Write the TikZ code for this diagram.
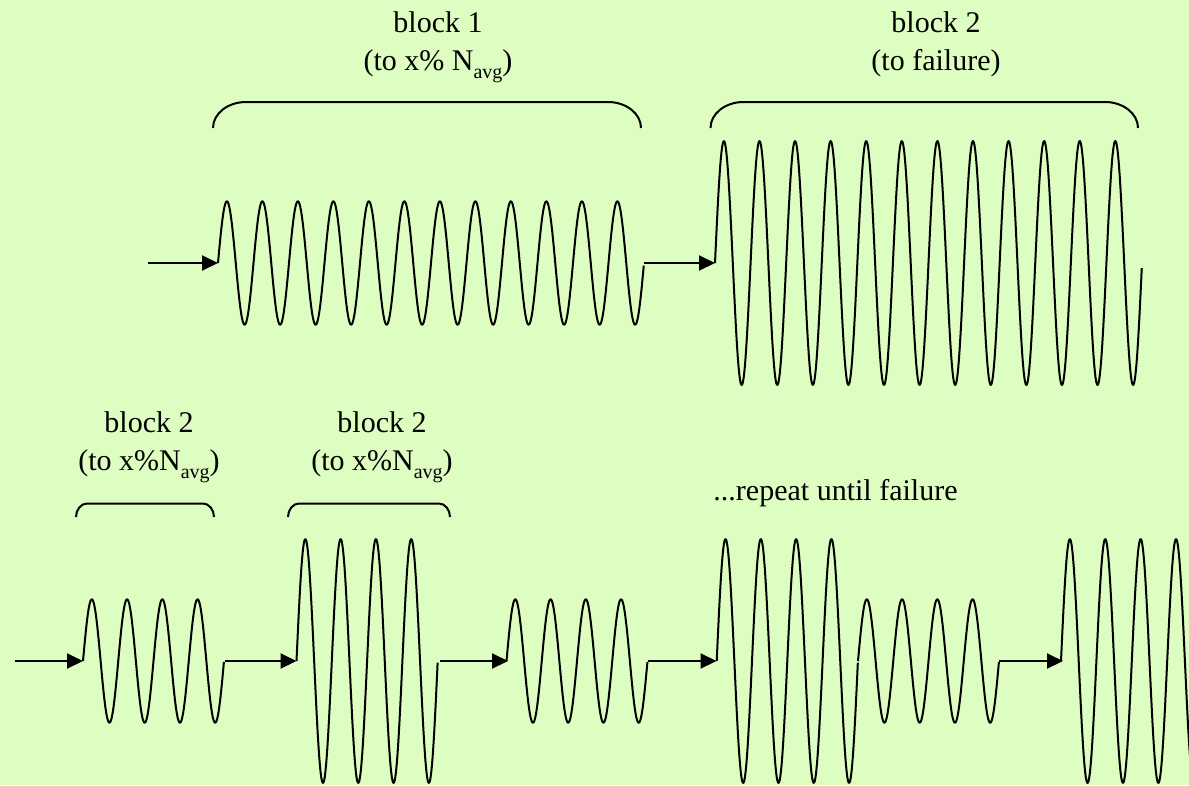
\documentclass[tikz,border=0pt]{standalone}
\usepackage{fontspec}
\setmainfont{Liberation Serif}
\usetikzlibrary{arrows.meta}
\definecolor{bg}{RGB}{221,253,193}
\newcommand{\sub}[1]{\raisebox{-8pt}{\fontsize{20}{20}\selectfont #1}}
\begin{document}
\begin{tikzpicture}[x=1pt,y=-1pt,
  wave/.style={line width=2pt,line join=round},
  conn/.style={line width=2pt,-{Triangle[length=16pt,width=15pt]}},
  bracket/.style={line width=2pt},
  lbl/.style={inner sep=0pt,anchor=base,font=\fontsize{30}{36}\selectfont}]
\fill[bg] (0,0) rectangle (1189,785);
\useasboundingbox (0,0) rectangle (1189,785);
\clip (0,0) rectangle (1189,785);

% ---- top row ----
\coordinate (in1) at (148,263);
\coordinate (w1s) at (218,263);
\coordinate (w1e) at (644,263);
\coordinate (w2s) at (715,263);
\coordinate (w2e) at (1142,263);
\draw[wave] plot[domain=0:12,samples=601,variable=\t] ({218+35.5*\t},{263-61.7*sin(360*\t)});
\draw[wave] plot[domain=0:12,samples=601,variable=\t] ({715+35.583*\t},{263-122*sin(360*\t)});
\draw[conn] (in1) -- (w1s);
\draw[conn] (w1e) -- (w2s);

\draw[bracket] (213,128) .. controls (213,113.6) and (227.8,102) .. (246,102) -- (608,102)
  .. controls (626.2,102) and (641,113.6) .. (641,128);
\draw[bracket] (710.5,128) .. controls (710.5,113.6) and (725.3,102) .. (743.5,102) -- (1105,102)
  .. controls (1123.2,102) and (1138,113.6) .. (1138,128);

\node[lbl] (t1a) at (438,32) {block 1};
\node[lbl] (t1b) at (438,70) {(to x\% N\sub{avg})};
\node[lbl] (t2a) at (936,32) {block 2};
\node[lbl] (t2b) at (936,70) {(to failure)};

% ---- bottom row ----
\coordinate (in2) at (15,661);
\coordinate (b1s) at (83,661);
\coordinate (b1e) at (225,661);
\coordinate (b2s) at (296.5,661);
\coordinate (b2e) at (440,661);
\coordinate (b3s) at (508,661);
\coordinate (b3e) at (648,661);
\coordinate (b4s) at (716.5,661);
\coordinate (b5e) at (999,661);
\coordinate (b6s) at (1063,661);
\draw[wave] plot[domain=0:4,samples=201,variable=\t] ({83+35.25*\t},{661-61.7*sin(360*\t)});
\draw[wave] plot[domain=0:4,samples=201,variable=\t] ({296.5+35.3*\t},{661-122*sin(360*\t)});
\draw[wave] plot[domain=0:4,samples=201,variable=\t] ({506.5+35.25*\t},{661-61.7*sin(360*\t)});
\draw[wave] plot[domain=0:4,samples=201,variable=\t] ({716.7+35.3*\t},{661-122*sin(360*\t)});
\draw[wave] plot[domain=0:4,samples=201,variable=\t] ({858+35.25*\t},{661-61.7*sin(360*\t)});
\draw[wave] plot[domain=0:4,samples=201,variable=\t] ({1061+35.4*\t},{661-122*sin(360*\t)});
\draw[conn] (in2) -- (b1s);
\draw[conn] (b1e) -- (b2s);
\draw[conn] (b2e) -- (b3s);
\draw[conn] (b3e) -- (b4s);
\draw[conn] (b5e) -- (b6s);

\draw[bracket] (76,517) .. controls (76,509.8) and (80.9,503.5) .. (87,503.5) -- (203,503.5)
  .. controls (209.1,503.5) and (214,509.8) .. (214,517);
\draw[bracket] (288,517) .. controls (288,509.8) and (292.9,503.5) .. (299,503.5) -- (439,503.5)
  .. controls (445.1,503.5) and (450,509.8) .. (450,517);

\node[lbl] (b1la) at (149,432) {block 2};
\node[lbl] (b1lb) at (149,470) {(to x\%N\sub{avg})};
\node[lbl] (b2la) at (382,432) {block 2};
\node[lbl] (b2lb) at (382,470) {(to x\%N\sub{avg})};
\node[lbl] (rep) at (835.5,500.5) {...repeat until failure};
\end{tikzpicture}
\end{document}
